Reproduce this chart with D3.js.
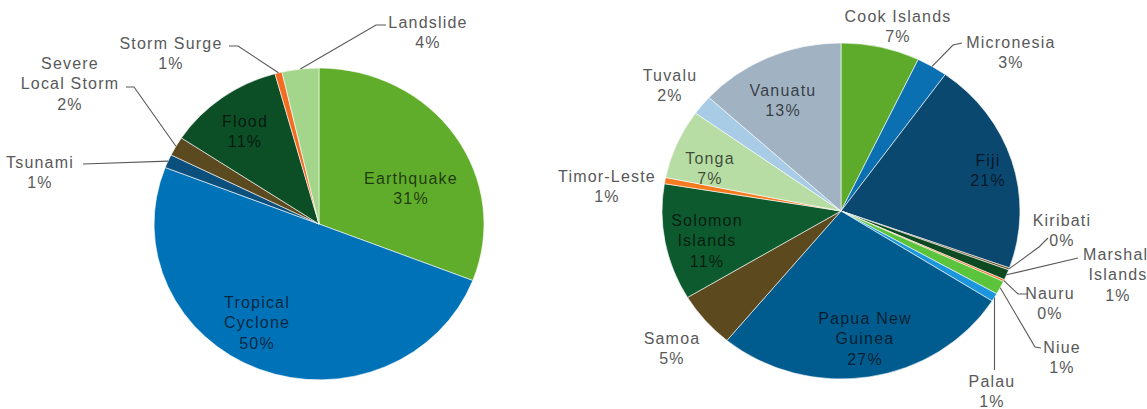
<!DOCTYPE html>
<html>
<head>
<meta charset="utf-8">
<script src="https://cdn.jsdelivr.net/npm/d3@7"></script>
<style>
  html, body { margin: 0; padding: 0; background: #fff; overflow: hidden; }
  svg { display: block; }
  text { font-family: "Liberation Sans", Arial, sans-serif; font-size: 16px; letter-spacing: 1.2px; }
</style>
</head>
<body>
<svg id="chart" width="1147" height="409"></svg>
<script>
// Share of disaster events by hazard type (%)
const hazardNames = ["Earthquake", "Tropical Cyclone", "Tsunami", "Severe Local Storm", "Flood", "Storm Surge", "Landslide"];
const hazardShares = [30.9, 50.0, 1.4, 2.0, 11.4, 0.7, 3.6];
const hazardColors = ["#60ad2b", "#0072b8", "#0b4f7c", "#5b4a1f", "#0c4f26", "#f26d21", "#a3d68b"];

// Share of disaster events by country (%)
const countryNames = ["Cook Islands", "Micronesia", "Fiji", "Kiribati", "Marshall Islands", "Nauru", "Niue", "Palau",
  "Papua New Guinea", "Samoa", "Solomon Islands", "Timor-Leste", "Tonga", "Tuvalu", "Vanuatu"];
const countryShares = [7.1, 2.8, 20.6, 0.2, 1.0, 0.2, 1.3, 0.8, 27.0, 5.4, 11.2, 0.6, 6.7, 1.9, 13.2];
const countryColors = ["#5eaa2a", "#0a70b2", "#0b4870", "#6b4e24", "#0d4a22", "#f26d21", "#5cc43c", "#1b95dc",
  "#005c8e", "#5c4a1e", "#0d5a2e", "#f47b20", "#b7dda4", "#a8cbe6", "#a1b3c3"];

// Label placement: centre of first line, words on first line, inside/outside, leader start points
const hazardLayout = {
  "Earthquake":         { x: 411, y: 178, inside: true },
  "Tropical Cyclone":   { x: 257, y: 302, inside: true, split: 1 },
  "Tsunami":            { x: 40,  y: 162, leader: [[83, 164]] },
  "Severe Local Storm": { x: 70,  y: 63,  split: 1, leader: [[126, 87], [134, 87]] },
  "Flood":              { x: 245, y: 121, inside: true },
  "Storm Surge":        { x: 171, y: 43,  leader: [[229, 46], [238, 46]] },
  "Landslide":          { x: 428, y: 22,  leader: [[386, 25], [376, 25]] }
};
const countryLayout = {
  "Cook Islands":     { x: 898,  y: 16 },
  "Micronesia":       { x: 1011, y: 42,  leader: [[962, 43], [953, 45]] },
  "Fiji":             { x: 988,  y: 160, inside: true },
  "Kiribati":         { x: 1062, y: 220, leader: [[1048, 238], [1039, 247]] },
  "Marshall Islands": { x: 1118, y: 254, split: 1, leader: [[1078, 258]] },
  "Nauru":            { x: 1050, y: 293, leader: [[1028, 294], [1018, 294]] },
  "Niue":             { x: 1062, y: 347, leader: [[1041, 348], [1035, 347]] },
  "Palau":            { x: 992,  y: 381, leader: "down" },
  "Papua New Guinea": { x: 865,  y: 318, inside: true, split: 2 },
  "Samoa":            { x: 672,  y: 338 },
  "Solomon Islands":  { x: 707,  y: 220, inside: true, split: 1 },
  "Timor-Leste":      { x: 607,  y: 176 },
  "Tonga":            { x: 710,  y: 158, inside: true },
  "Tuvalu":           { x: 670,  y: 75 },
  "Vanuatu":          { x: 783,  y: 90,  inside: true }
};

const svg = d3.select("#chart");
const lineGap = 20.5;
const pctFmt = d3.format(".0%");

function drawPie(names, shares, colors, layout, cx, cy, rx, ry) {
  const total = d3.sum(shares);
  const R = ry;
  const pie = d3.pie().sort(null).value(d => d.v).startAngle(0).endAngle(2 * Math.PI);
  const data = pie(names.map((n, i) => ({ name: n, v: shares[i], color: colors[i] })));
  const arc = d3.arc().innerRadius(0).outerRadius(R);

  const g = svg.append("g").attr("transform", `translate(${cx},${cy}) scale(${rx / R},1)`);
  g.selectAll("path").data(data).join("path")
    .attr("d", arc)
    .attr("fill", d => d.data.color)
    .attr("stroke", "#ffffff")
    .attr("stroke-width", 0.6)
    .attr("vector-effect", "non-scaling-stroke");

  // point on the (elliptical) rim at the middle of a slice
  const rim = d => {
    const a = (d.startAngle + d.endAngle) / 2;
    return [cx + rx * Math.sin(a), cy - ry * Math.cos(a)];
  };

  const labels = svg.append("g");
  const leaders = svg.append("g");
  data.forEach(d => {
    const L = layout[d.data.name];
    const words = d.data.name.split(" ");
    const lines = L.split ? [words.slice(0, L.split).join(" "), words.slice(L.split).join(" ")] : [d.data.name];
    lines.push(pctFmt(d.data.v / total));

    const t = labels.append("text")
      .attr("text-anchor", "middle")
      .attr("fill", L.inside ? "#000000" : "#595959")
      .attr("fill-opacity", L.inside ? 0.68 : 1);
    lines.forEach((s, i) => {
      t.append("tspan").attr("x", L.x).attr("y", L.y + i * lineGap + 5.5).text(s);
    });

    if (L.leader) {
      const end = rim(d);
      const pts = L.leader === "down" ? [[end[0], L.y - 11]] : L.leader.slice();
      pts.push(end);
      leaders.append("path")
        .attr("d", d3.line()(pts))
        .attr("fill", "none")
        .attr("stroke", "#595959")
        .attr("stroke-width", 1.1);
    }
  });
}

drawPie(hazardNames, hazardShares, hazardColors, hazardLayout, 319, 224, 165, 156);
drawPie(countryNames, countryShares, countryColors, countryLayout, 841, 211, 179, 168);
</script>
</body>
</html>
